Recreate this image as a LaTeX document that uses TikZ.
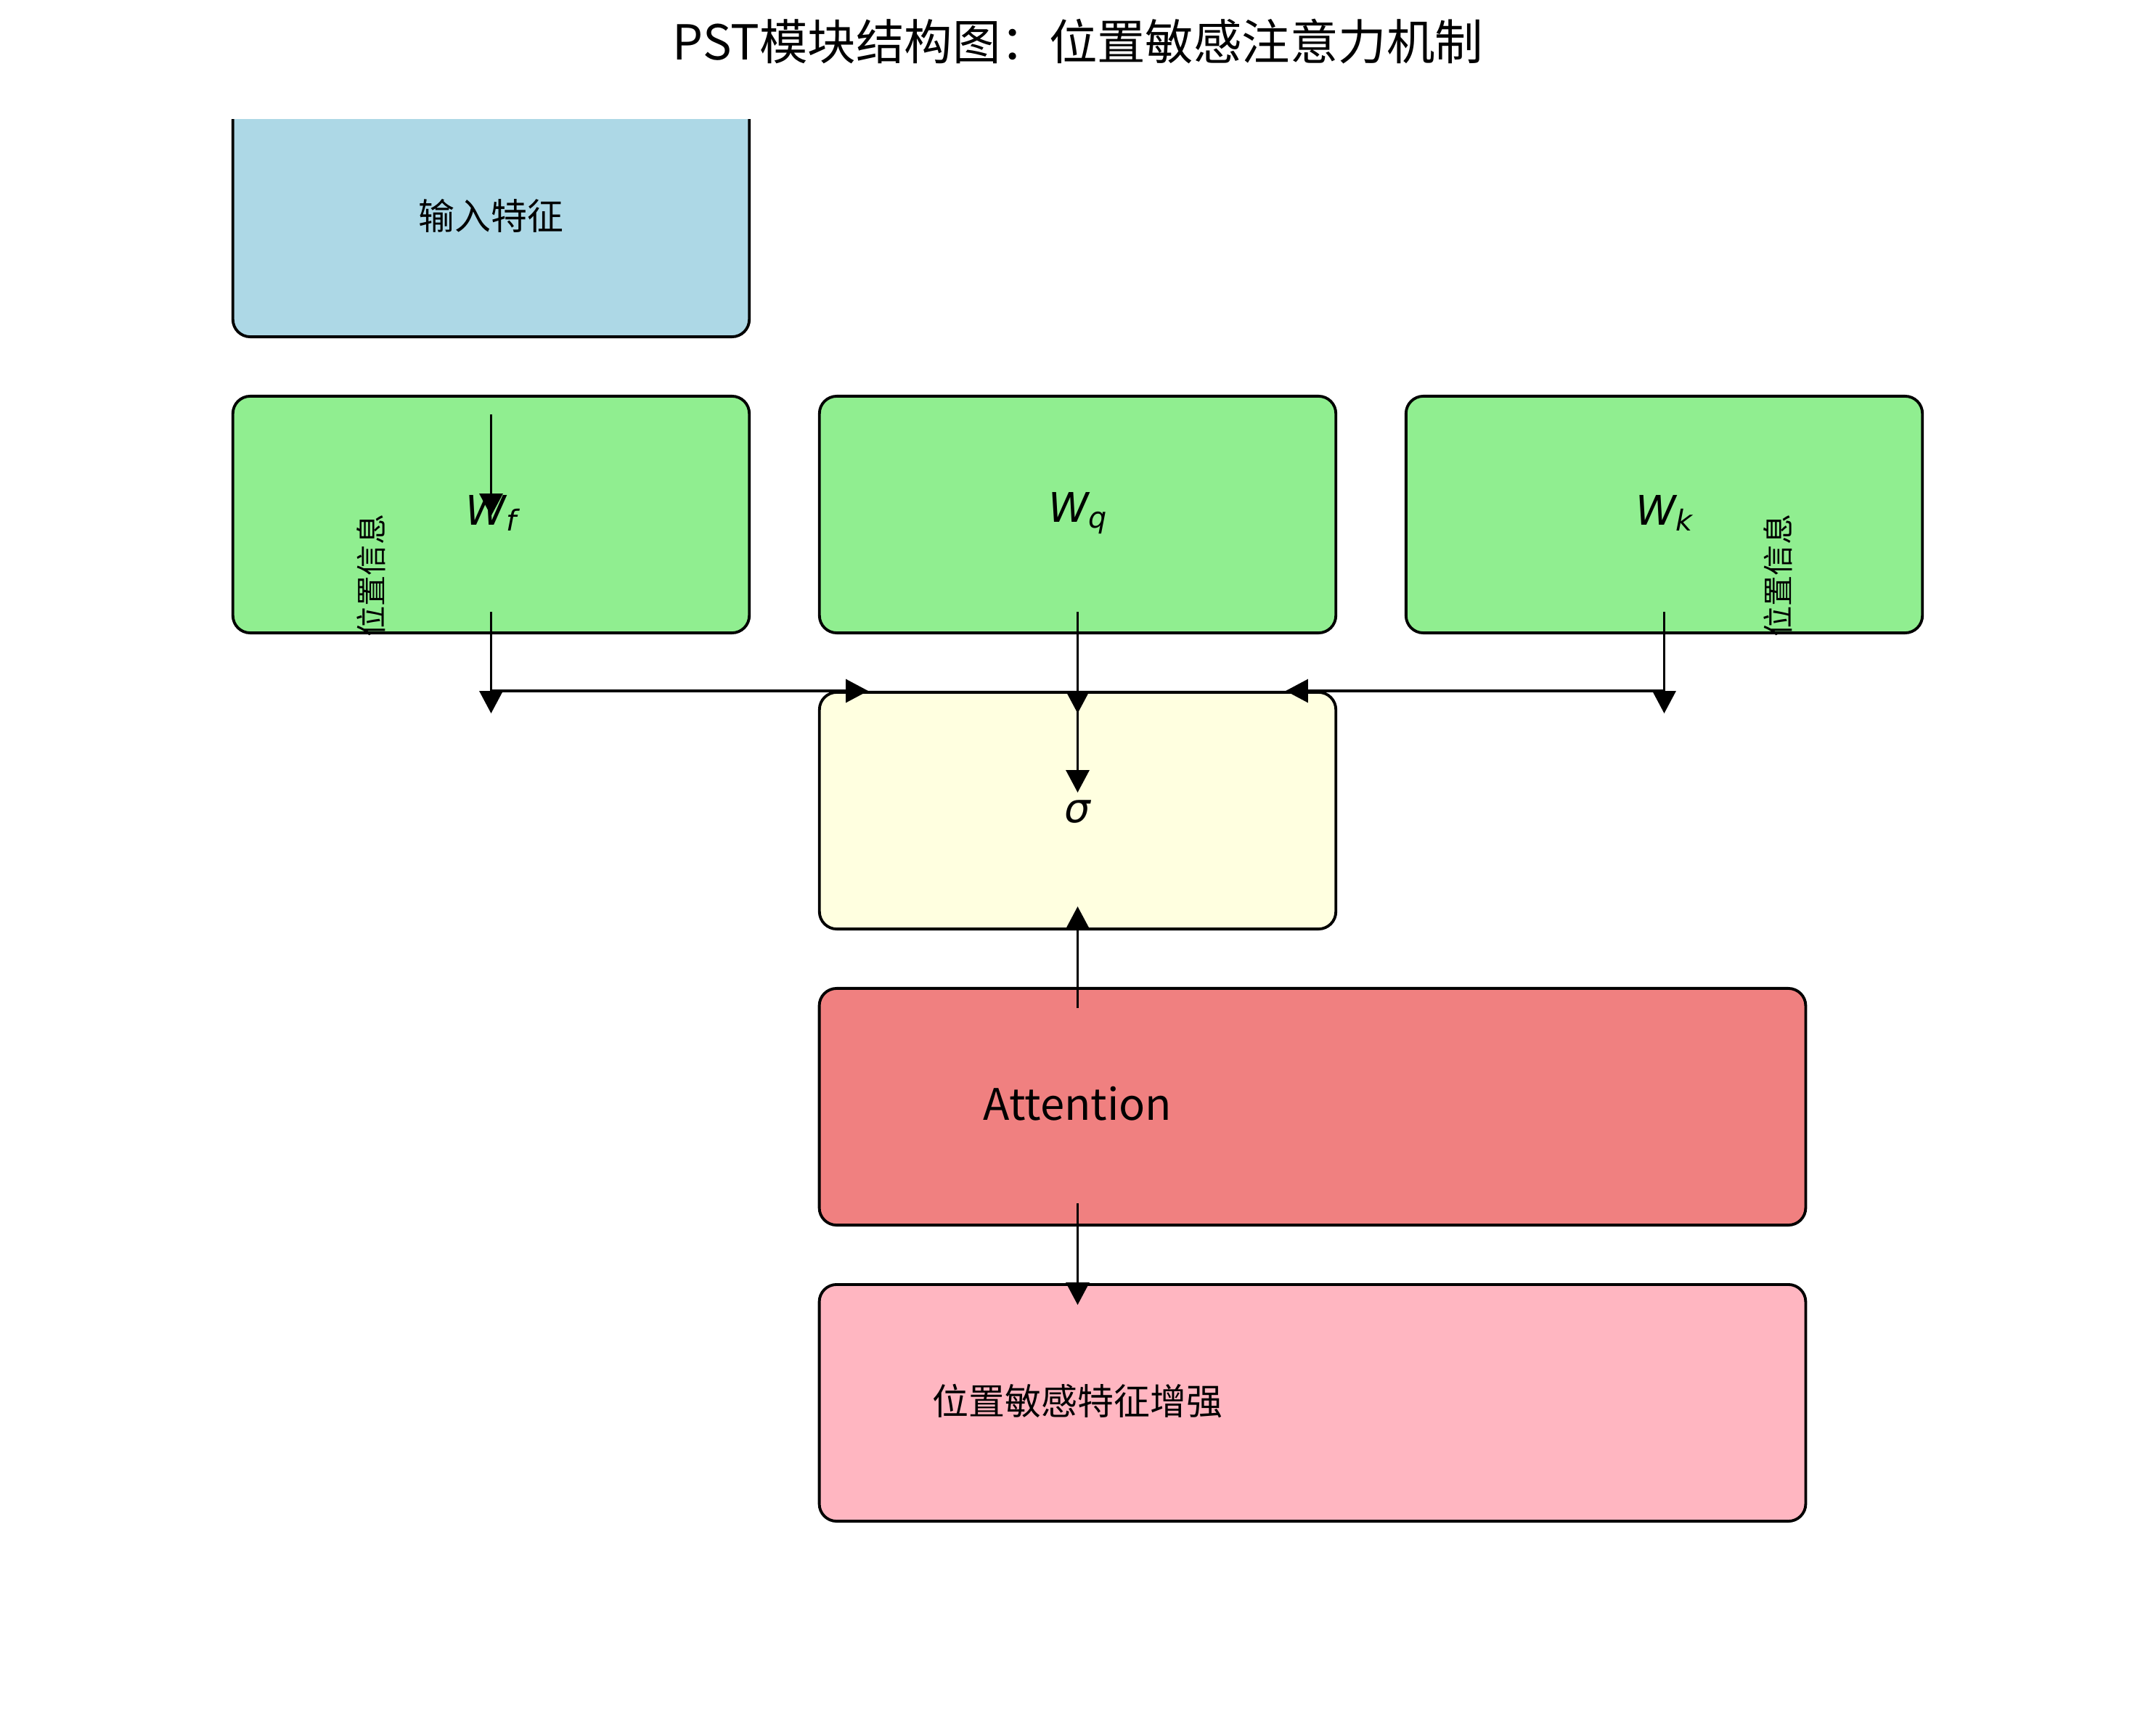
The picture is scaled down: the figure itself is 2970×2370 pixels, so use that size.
\documentclass[tikz,border=0pt]{standalone}
\usepackage{fontspec}
\setmainfont{Noto Sans CJK SC}
\newfontfamily\dvs{DejaVu Sans}
\usetikzlibrary{arrows.meta}
\definecolor{cInput}{HTML}{ADD8E6}
\definecolor{cGreen}{HTML}{90EE90}
\definecolor{cYellow}{HTML}{FFFFE0}
\definecolor{cAttn}{HTML}{F08080}
\definecolor{cOut}{HTML}{FFB6C1}
\newcommand{\mW}[1]{{\dvs\itshape\fontsize{16pt}{16pt}\selectfont W\raisebox{-2.4pt}{\fontsize{11.3pt}{11.3pt}\selectfont #1}}}
\tikzset{
  blockbox/.style={draw=black, line width=1.1pt, rounded corners=6.8pt, inner sep=0pt, minimum height=92.75pt},
  smallbox/.style={blockbox, minimum width=202.3pt},
  widebox/.style={blockbox, minimum width=386.4pt},
  lbl/.style={inner sep=0pt, font=\fontsize{14.2pt}{14.2pt}\selectfont},
  vlbl/.style={inner sep=0pt, rotate=90, font=\fontsize{12pt}{12pt}\selectfont},
  flow/.style={line width=0.95pt, -{Triangle[length=8.8pt, width=9.1pt]}}
}
\begin{document}
\begin{tikzpicture}[x=0.01cm, y=-0.01cm]
\useasboundingbox (0,0) rectangle (2970,2370);
\fill[white] (0,0) rectangle (2970,2370);

% title
\node[inner sep=0pt, anchor=base, font=\fontsize{18.9pt}{18.9pt}\selectfont] (title) at (1485,83) {PST模块结构图：位置敏感注意力机制};

% input box (clipped at top)
\begin{scope}
\clip (0,165) rectangle (2970,2370);
\node[smallbox, fill=cInput] (inbox) at (676.5,301) {};
\end{scope}
\node[lbl] (intext) at (676.5,297) {输入特征};

% projection boxes
\node[smallbox, fill=cGreen] (wf) at (676.5,709) {};
\node[smallbox, fill=cGreen] (wq) at (1484.5,709) {};
\node[smallbox, fill=cGreen] (wk) at (2292.5,709) {};
\node[inner sep=0pt] (wftext) at (676.5,707) {\mW{f}};
\node[inner sep=0pt] (wqtext) at (1484.5,707) {\mW{q}};
\node[inner sep=0pt] (wktext) at (2292.5,707) {\mW{k}};

% sigma box
\node[smallbox, fill=cYellow] (sig) at (1484.5,1117) {};
\node[inner sep=0pt, font=\dvs\itshape\fontsize{16pt}{16pt}\selectfont] (sigtext) at (1484.5,1118) {σ};

% attention and output
\node[widebox, fill=cAttn] (attn) at (1808,1525) {};
\node[inner sep=0pt, font=\fontsize{17pt}{17pt}\selectfont] (attntext) at (1484.5,1521) {Attention};
\node[widebox, fill=cOut] (out) at (1808,1933) {};
\node[lbl] (outtext) at (1484.5,1931) {位置敏感特征增强};

% rotated labels
\node[vlbl] (posl) at (511,793) {位置信息};
\node[vlbl] (posr) at (2449,793) {位置信息};

% connector coordinates
\coordinate (a1s) at (676.5,571);  \coordinate (a1e) at (676.5,711);
\coordinate (a2s) at (676.5,843);  \coordinate (a2e) at (676.5,983);
\coordinate (a3s) at (1484.5,843); \coordinate (a3e) at (1484.5,983);
\coordinate (a4s) at (2292.5,843); \coordinate (a4e) at (2292.5,983);
\coordinate (a5s) at (676.5,952);  \coordinate (a5e) at (1196,952);
\coordinate (a6s) at (2292.5,952); \coordinate (a6e) at (1771,952);
\coordinate (a7s) at (1484.5,952); \coordinate (a7e) at (1484.5,1092);
\coordinate (a8s) at (1484.5,1389); \coordinate (a8e) at (1484.5,1249);
\coordinate (a9s) at (1484.5,1658); \coordinate (a9e) at (1484.5,1798);

\draw[flow] (a1s) -- (a1e);
\draw[flow] (a2s) -- (a2e);
\draw[flow] (a3s) -- (a3e);
\draw[flow] (a4s) -- (a4e);
\draw[flow] (a5s) -- (a5e);
\draw[flow] (a6s) -- (a6e);
\draw[flow] (a7s) -- (a7e);
\draw[flow] (a8s) -- (a8e);
\draw[flow] (a9s) -- (a9e);
\end{tikzpicture}
\end{document}
